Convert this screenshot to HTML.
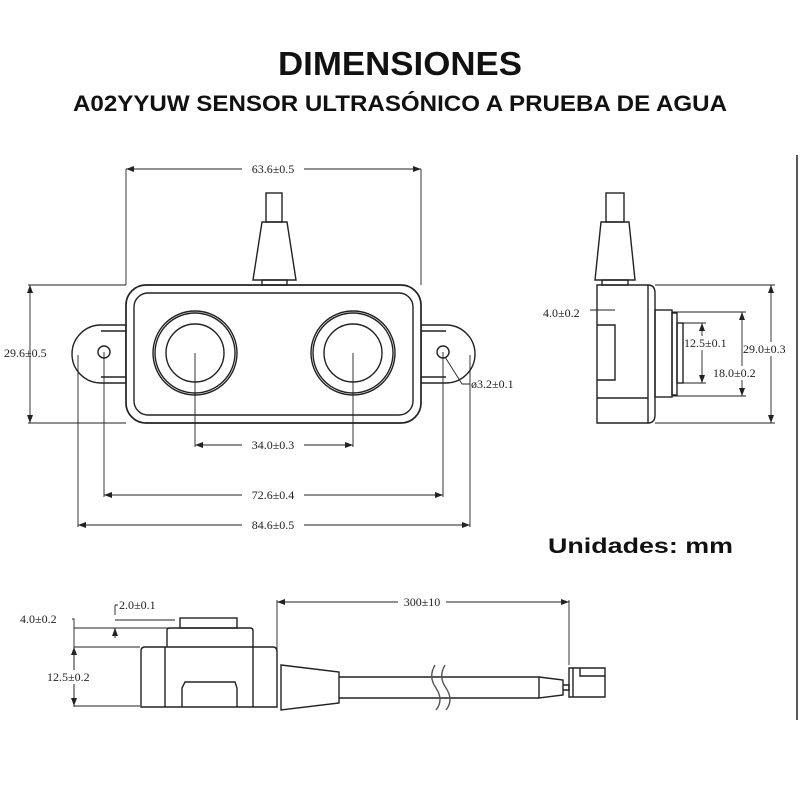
<!DOCTYPE html>
<html><head><style>
html,body{margin:0;padding:0;background:#fff;}
.t{font-family:"Liberation Sans",sans-serif;font-weight:bold;fill:#111;}
.d{font-family:"Liberation Serif",serif;font-size:12px;fill:#222;}
</style></head><body>
<svg width="800" height="800" viewBox="0 0 800 800" xmlns="http://www.w3.org/2000/svg">
<defs>
<marker id="a" markerWidth="8" markerHeight="6" refX="8" refY="3" orient="auto-start-reverse" markerUnits="userSpaceOnUse"><path d="M0,0 L8,3 L0,6 z" fill="#222"/></marker>
</defs>
<text class="t" x="278" y="75" font-size="33" textLength="244" lengthAdjust="spacingAndGlyphs">DIMENSIONES</text>
<text class="t" x="73" y="111" font-size="22" textLength="654" lengthAdjust="spacingAndGlyphs">A02YYUW SENSOR ULTRASÓNICO A PRUEBA DE AGUA</text>
<text class="t" x="548" y="553" font-size="21" textLength="185" lengthAdjust="spacingAndGlyphs">Unidades: mm</text>

<g fill="none" stroke="#222" stroke-width="1.4">
<!-- FRONT VIEW -->
<path d="M101,325 H126 V383 H101 A29,29 0 0 1 101,325 Z"/>
<path d="M101,331 H126 M101,377 H126"/>
<path d="M446,325 H421 V383 H446 A29,29 0 0 0 446,325 Z"/>
<path d="M446,331 H421 M446,377 H421"/>
<circle cx="104" cy="352" r="6"/>
<circle cx="443" cy="352" r="6"/>
<rect x="126" y="285" width="295" height="138" rx="20" fill="#fff" stroke-width="1.7"/>
<rect x="134" y="293" width="279" height="122" rx="14"/>
<circle cx="195" cy="353" r="42"/><circle cx="195" cy="353" r="40"/><circle cx="195" cy="353" r="29"/>
<circle cx="353" cy="353" r="42"/><circle cx="353" cy="353" r="40"/><circle cx="353" cy="353" r="29"/>
<rect x="266" y="193" width="16" height="29"/>
<path d="M262,222 H287 L296,280 H253 Z"/>
<rect x="262" y="280" width="25" height="5"/>
<g stroke-width="0.9">
<path d="M126,169 V285 M421,169 V285"/>
<path d="M126,169 H421" marker-start="url(#a)" marker-end="url(#a)"/>
<path d="M28,285 H126 M28,423 H126"/>
<path d="M30,285 V423" marker-start="url(#a)" marker-end="url(#a)"/>
<path d="M195,353 V447 M353,353 V447"/>
<path d="M195,445 H353" marker-start="url(#a)" marker-end="url(#a)"/>
<path d="M104,352 V497 M443,352 V497"/>
<path d="M104,495 H443" marker-start="url(#a)" marker-end="url(#a)"/>
<path d="M78,355 V527 M470,355 V527"/>
<path d="M78,525 H470" marker-start="url(#a)" marker-end="url(#a)"/>
<path d="M445,357 L462,384 H470"/>
</g>
</g>
<g class="d">
<rect x="242" y="162" width="62" height="14" fill="#fff"/>
<text x="273" y="173" text-anchor="middle" class="d">63.6±0.5</text>
<text x="4" y="357" class="d">29.6±0.5</text>
<rect x="242" y="438" width="62" height="14" fill="#fff"/>
<text x="273" y="449" text-anchor="middle" class="d">34.0±0.3</text>
<rect x="242" y="488" width="62" height="14" fill="#fff"/>
<text x="273" y="499" text-anchor="middle" class="d">72.6±0.4</text>
<rect x="242" y="518" width="62" height="14" fill="#fff"/>
<text x="273" y="529" text-anchor="middle" class="d">84.6±0.5</text>
<text x="471" y="388" class="d">ø3.2±0.1</text>
</g>

<!-- SIDE VIEW -->
<g fill="none" stroke="#222" stroke-width="1.4">
<rect x="606" y="193" width="18" height="29"/>
<path d="M601,222 H629 L635,280 H595 Z"/>
<rect x="602" y="280" width="26" height="5"/>
<path d="M597,285 H648 Q655,285 655,293 V415 Q655,423 648,423 H597 Z"/>
<path d="M648,285 V423 M597,398 H648"/>
<path d="M597,325 H615 V380 H597"/>
<rect x="655" y="310" width="17" height="87"/>
<rect x="672" y="313" width="5" height="82"/>
<rect x="677" y="323" width="6" height="60"/>
<g stroke-width="0.9">
<path d="M655,285 H775 M655,423 H775"/>
<path d="M771,285 V423" marker-start="url(#a)" marker-end="url(#a)"/>
<path d="M672,312 H746 M672,396 H746"/>
<path d="M742,312 V396" marker-start="url(#a)" marker-end="url(#a)"/>
<path d="M683,323 H706 M683,383 H706"/>
<path d="M702,323 V383" marker-start="url(#a)" marker-end="url(#a)"/>
<path d="M590,310 H615"/>
</g>
</g>
<g class="d">
<text x="543" y="317" class="d">4.0±0.2</text>
<rect x="685" y="336" width="54" height="14" fill="#fff"/>
<text x="684" y="347" class="d">12.5±0.1</text>
<rect x="714" y="366" width="54" height="14" fill="#fff"/>
<text x="713" y="377" class="d">18.0±0.2</text>
<rect x="744" y="342" width="50" height="14" fill="#fff"/>
<text x="743" y="353" class="d">29.0±0.3</text>
</g>
<path d="M797,155 V720" stroke="#222" stroke-width="1.5"/>

<!-- BOTTOM VIEW -->
<g fill="none" stroke="#222" stroke-width="1.4">
<rect x="180" y="618" width="57" height="10"/>
<path d="M167,647 V630 Q167,628 170,628 H250 Q253,628 253,631 V647"/>
<path d="M145,647 H273 Q277,647 277,652 V707 H141 V651 Q141,647 145,647 Z"/>
<path d="M165,647 V707 M253,647 V707"/>
<path d="M182,707 V688 L185,682 H235 L237,688 V707"/>
<path d="M281,665 L339,672 V703 L281,710 Z"/>
<path d="M339,677 H539 M339,698 H539"/>
<path d="M539,677 L563,680 V695 L539,698 Z"/>
<path d="M563,685 H569 V690 H563"/>
<path d="M569,668 H605 V697 H569 Z M573,668 V697 M580,668 V676 H605"/>
<path d="M435,665 Q428,677 436,688 Q444,700 436,710 M445,665 Q438,677 446,688 Q454,700 446,710" stroke="#555"/>
<g stroke-width="0.9">
<path d="M277,600 V650 M569,600 V665"/>
<path d="M277,602 H569" marker-start="url(#a)" marker-end="url(#a)"/>
<path d="M72,619 H74 V707" />
<path d="M74,628 H250 M74,647 H140 M74,706 H140"/>
<path d="M74,647 V706" marker-start="url(#a)" marker-end="url(#a)"/>
<path d="M115,605 H118 M115,605 V615 M115,620 H175"/>
<path d="M115,638 V628" marker-end="url(#a)"/>
</g>
</g>
<g class="d">
<rect x="398" y="595" width="48" height="14" fill="#fff"/>
<text x="422" y="606" text-anchor="middle" class="d">300±10</text>
<text x="20" y="623" class="d">4.0±0.2</text>
<text x="119" y="609" class="d">2.0±0.1</text>
<rect x="46" y="670" width="56" height="14" fill="#fff"/>
<text x="47" y="681" class="d">12.5±0.2</text>
</g>
</svg>
</body></html>
